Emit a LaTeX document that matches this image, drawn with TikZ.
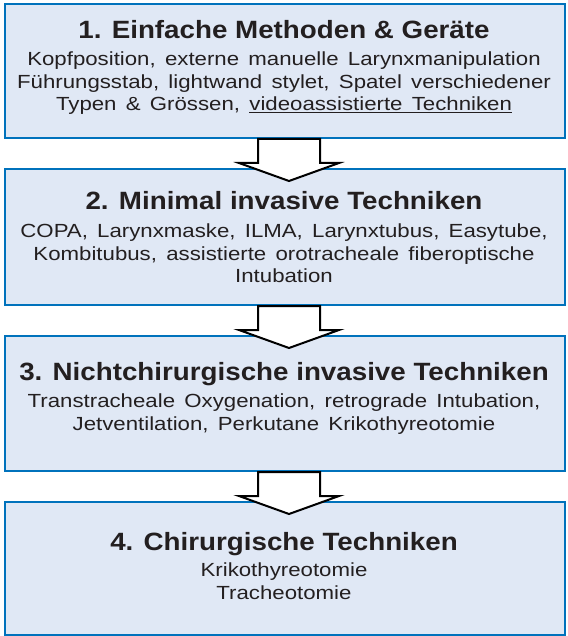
\documentclass[tikz,border=0pt]{standalone}
\usepackage{fontspec}
\setmainfont{Liberation Sans}
\newfontfamily\headfont[FakeStretch=1.11]{Liberation Sans}
\newfontfamily\bodyfont[FakeStretch=1.17,WordSpace=1.5]{Liberation Sans}
\definecolor{frame}{RGB}{0,114,188}
\definecolor{pale}{RGB}{224,232,245}
\definecolor{ink}{RGB}{35,31,32}

\begin{document}
\begin{tikzpicture}[
  x=1pt, y=-1pt,
  box/.style={draw=frame, fill=pale, line width=2pt, minimum width=560pt, inner sep=0pt},
  head/.style={anchor=base, inner sep=0pt, text=ink,
               font=\headfont\bfseries\fontsize{25}{30}\selectfont},
  body/.style={anchor=north, inner sep=0pt, text=ink, align=center,
               font=\bodyfont\fontsize{19}{22.5}\selectfont},
  blk/.style={draw=black, fill=white, line width=2pt, line join=miter},
]
  \useasboundingbox (0,0) rectangle (567,636);

  % Boxes
  \node[box, minimum height=134pt] (m1) at (285,71) {};
  \node[box, minimum height=136pt] (m2) at (285,237) {};
  \node[box, minimum height=135pt] (m3) at (285,403.5) {};
  \node[box, minimum height=133pt] (m4) at (285,568.5) {};

  % Block arrows between the stages
  \foreach \a/\b in {m1/m2, m2/m3, m3/m4}
    \draw[blk] ([xshift=-27pt]\a.south) -- ([xshift=-27pt,yshift=5pt]\b.north)
      -- ([xshift=-46pt,yshift=5pt]\b.north) -- ([xshift=4pt,yshift=-13pt]\b.north)
      -- ([xshift=54pt,yshift=5pt]\b.north) -- ([xshift=35pt,yshift=5pt]\b.north)
      -- ([xshift=35pt]\a.south) -- cycle;

  % Stage 1
  \node[head] (h1) at (284,39) {1. Einfache Methoden \& Geräte};
  \node[body] (b1) at (284,52)
    {Kopfposition, externe manuelle Larynxmanipulation\\
     Führungsstab, lightwand stylet, Spatel verschiedener\\
     Typen \& Grössen, \underline{videoassistierte Techniken}};

  % Stage 2
  \node[head] (h2) at (284,209) {2. Minimal invasive Techniken};
  \node[body] (b2) at (284,224)
    {COPA, Larynxmaske, ILMA, Larynxtubus, Easytube,\\
     Kombitubus, assistierte orotracheale fiberoptische\\
     Intubation};

  % Stage 3
  \node[head] (h3) at (284,380.5) {3. Nichtchirurgische invasive Techniken};
  \node[body] (b3) at (284,394)
    {Transtracheale Oxygenation, retrograde Intubation,\\
     Jetventilation, Perkutane Krikothyreotomie};

  % Stage 4
  \node[head] (h4) at (284,550) {4. Chirurgische Techniken};
  \node[body] (b4) at (284,563)
    {Krikothyreotomie\\
     Tracheotomie};
\end{tikzpicture}
\end{document}
